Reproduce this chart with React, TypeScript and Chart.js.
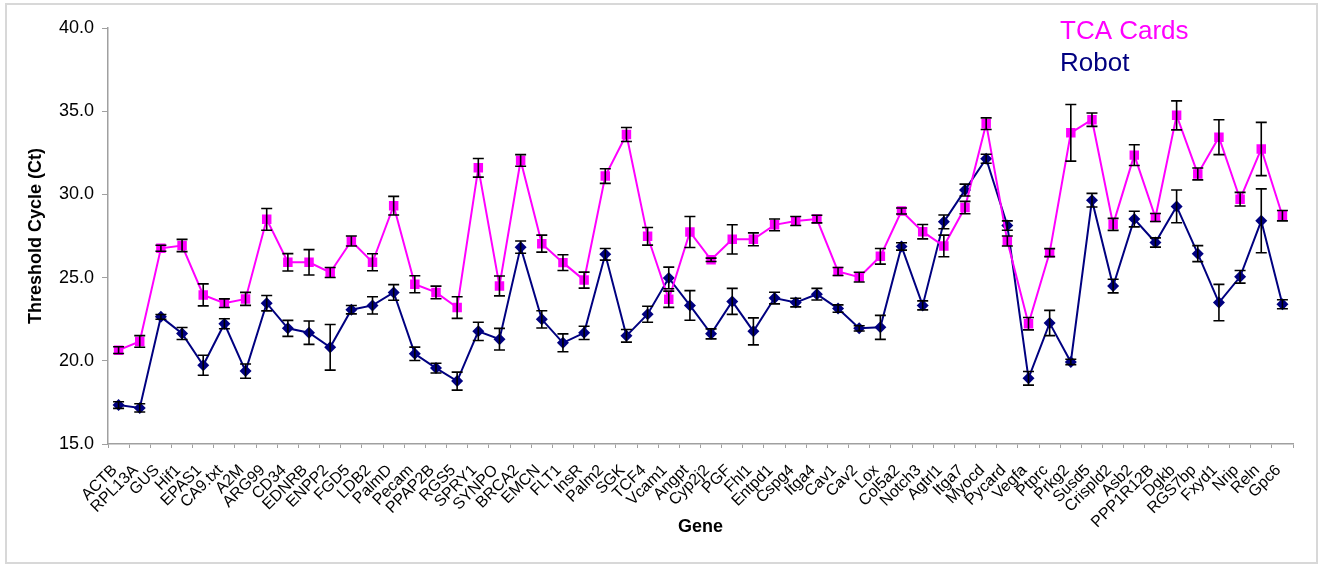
import React, { useEffect, useRef } from "react";
import { Chart, registerables } from "chart.js";

Chart.register(...registerables);

const genes = [
  "ACTB", "RPL13A", "GUS", "Hif1", "EPAS1", "CA9.txt", "A2M", "ARG99", "CD34", "EDNRB",
  "ENPP2", "FGD5", "LDB2", "PalmD", "Pecam", "PPAP2B", "RGS5", "SPRY1", "SYNPO", "BRCA2",
  "EMCN", "FLT1", "InsR", "Palm2", "SGK", "TCF4", "Vcam1", "Angpt", "Cyp2j2", "PGF",
  "Fhl1", "Entpd1", "Cspg4", "Itga4", "Cav1", "Cav2", "Lox", "Col5a2", "Notch3", "Agtrl1",
  "Itga7", "Myocd", "Pycard", "Vegfa", "Ptprc", "Prkg2", "Susd5", "Crispld2", "Asb2", "PPP1R12B",
  "Dgkb", "RGS7bp", "Fxyd1", "Nrip", "Reln", "Gpc6",
];

const tcaValues = [
  20.64, 21.16, 26.76, 26.93, 23.96, 23.46, 23.72, 28.5, 25.92, 25.92,
  25.31, 27.2, 25.92, 29.32, 24.6, 24.11, 23.2, 31.6, 24.5, 32.04,
  27.04, 25.9, 24.85, 31.1, 33.6, 27.48, 23.7, 27.74, 26.07, 27.3,
  27.3, 28.17, 28.4, 28.52, 25.37, 25.03, 26.28, 29.0, 27.76, 26.9,
  29.21, 34.25, 27.2, 22.23, 26.5, 33.7, 34.49, 28.2, 32.36, 28.61,
  34.75, 31.23, 33.44, 29.71, 32.73, 28.72,
];

const tcaErrors = [
  0.2, 0.35, 0.18, 0.37, 0.66, 0.26, 0.39, 0.65, 0.52, 0.76,
  0.3, 0.3, 0.51, 0.56, 0.51, 0.38, 0.65, 0.56, 0.6, 0.35,
  0.51, 0.47, 0.48, 0.44, 0.42, 0.53, 0.49, 0.93, 0.1, 0.88,
  0.39, 0.35, 0.27, 0.23, 0.24, 0.29, 0.47, 0.18, 0.43, 0.65,
  0.37, 0.35, 0.3, 0.37, 0.24, 1.7, 0.4, 0.36, 0.62, 0.24,
  0.87, 0.36, 1.05, 0.41, 1.6, 0.31,
];

const robotValues = [
  17.34, 17.17, 22.64, 21.64, 19.73, 22.23, 19.38, 23.46, 21.95, 21.69,
  20.81, 23.07, 23.33, 24.11, 20.42, 19.56, 18.78, 21.77, 21.3, 26.83,
  22.49, 21.08, 21.68, 26.4, 21.5, 22.8, 24.98, 23.33, 21.62, 23.57,
  21.77, 23.77, 23.5, 24.0, 23.14, 21.95, 22.01, 26.87, 23.33, 28.35,
  30.26, 32.14, 28.13, 18.95, 22.27, 19.93, 29.65, 24.49, 28.52, 27.11,
  29.28, 26.44, 23.5, 25.05, 28.41, 23.4,
];

const robotErrors = [
  0.2, 0.25, 0.14, 0.36, 0.6, 0.3, 0.43, 0.46, 0.48, 0.7,
  1.37, 0.25, 0.52, 0.47, 0.4, 0.29, 0.54, 0.55, 0.65, 0.37,
  0.52, 0.54, 0.4, 0.35, 0.38, 0.48, 0.65, 0.89, 0.3, 0.78,
  0.81, 0.35, 0.26, 0.35, 0.22, 0.16, 0.72, 0.22, 0.27, 0.41,
  0.36, 0.27, 0.28, 0.41, 0.76, 0.16, 0.41, 0.41, 0.47, 0.28,
  0.98, 0.48, 1.09, 0.38, 1.92, 0.27,
];

const seriesNames = ["TCA Cards", "Robot"];
const MAGENTA = "#FF00FF";
const NAVY = "#000080";
const FONT = "'Liberation Sans', Arial, sans-serif";

const errorBarPlugin = {
  id: "errorBars",
  afterDatasetsDraw(chart: any) {
    const ctx = chart.ctx;
    const yScale = chart.scales.y;
    ctx.save();
    ctx.strokeStyle = "#000000";
    ctx.lineWidth = 1.6;
    chart.data.datasets.forEach((ds: any, di: number) => {
      const meta = chart.getDatasetMeta(di);
      ds.data.forEach((v: number, i: number) => {
        const err = ds.errors[i];
        const px = meta.data[i].x;
        const top = yScale.getPixelForValue(v + err);
        const bot = yScale.getPixelForValue(v - err);
        const cap = 5.5;
        ctx.beginPath();
        ctx.moveTo(px, top);
        ctx.lineTo(px, bot);
        ctx.moveTo(px - cap, top);
        ctx.lineTo(px + cap, top);
        ctx.moveTo(px - cap, bot);
        ctx.lineTo(px + cap, bot);
        ctx.stroke();
      });
    });
    ctx.restore();
  },
};

const legendTextPlugin = {
  id: "legendText",
  afterDraw(chart: any) {
    const ctx = chart.ctx;
    ctx.save();
    ctx.font = `26px ${FONT}`;
    ctx.textBaseline = "middle";
    ctx.textAlign = "left";
    ctx.fillStyle = MAGENTA;
    ctx.fillText(seriesNames[0], 1060, 32);
    ctx.fillStyle = NAVY;
    ctx.fillText(seriesNames[1], 1060, 64);
    ctx.restore();
  },
};

export default function App() {
  const canvasRef = useRef<HTMLCanvasElement | null>(null);

  useEffect(() => {
    if (!canvasRef.current) return;
    const chart = new Chart(canvasRef.current, {
      type: "line",
      data: {
        labels: genes,
        datasets: [
          {
            label: seriesNames[1],
            data: robotValues,
            errors: robotErrors,
            borderColor: NAVY,
            backgroundColor: NAVY,
            borderWidth: 2,
            pointStyle: "rectRot",
            pointRadius: 6,
            pointBorderWidth: 0,
            pointBackgroundColor: NAVY,
            tension: 0,
            order: 2,
          } as any,
          {
            label: seriesNames[0],
            data: tcaValues,
            errors: tcaErrors,
            borderColor: MAGENTA,
            backgroundColor: MAGENTA,
            borderWidth: 2,
            pointStyle: "rect",
            pointRadius: 6.7,
            pointBorderWidth: 0,
            pointBackgroundColor: MAGENTA,
            tension: 0,
            order: 1,
          } as any,
        ],
      },
      options: {
        animation: false,
        responsive: false,
        devicePixelRatio: 1,
        layout: { padding: { top: 28, right: 29, bottom: 0, left: 0 } },
        plugins: {
          legend: { display: false },
          tooltip: { enabled: false },
        },
        scales: {
          x: {
            type: "category",
            offset: true,
            grid: {
              display: true,
              offset: true,
              drawOnChartArea: false,
              drawTicks: true,
              tickLength: 4,
              color: "#A0A0A0",
              lineWidth: 1,
            },
            border: { display: true, color: "#A0A0A0", width: 1.5 },
            ticks: {
              autoSkip: false,
              minRotation: 45,
              maxRotation: 45,
              padding: 13,
              labelOffset: -4,
              color: "#000000",
              font: { family: FONT, size: 16 },
            },
            title: {
              display: true,
              text: "Gene",
              color: "#000000",
              font: { family: FONT, size: 18, weight: "bold" },
              padding: { top: 4, bottom: 28 },
            },
            afterFit: (s: any) => {
              s.height = 122;
            },
          },
          y: {
            min: 15,
            max: 40,
            grid: {
              display: true,
              drawOnChartArea: false,
              drawTicks: true,
              tickLength: 6,
              color: "#A0A0A0",
            },
            border: { display: true, color: "#A0A0A0", width: 1.5 },
            ticks: {
              stepSize: 5,
              padding: 8,
              color: "#000000",
              font: { family: FONT, size: 18 },
              callback: (v: any) => Number(v).toFixed(1),
            },
            title: {
              display: true,
              text: "Threshold Cycle (Ct)",
              color: "#000000",
              font: { family: FONT, size: 18, weight: "bold" },
              padding: { top: 25, bottom: 0 },
            },
            afterFit: (s: any) => {
              s.width = 108;
            },
          },
        },
      } as any,
      plugins: [errorBarPlugin, legendTextPlugin],
    });
    return () => chart.destroy();
  }, []);

  return (
    <div
      style={{
        position: "fixed",
        left: 0,
        top: 0,
        width: 1322,
        height: 566,
        background: "#FFFFFF",
      }}
    >
      <div
        style={{
          position: "absolute",
          left: 5,
          top: 3,
          width: 1309,
          height: 557,
          border: "2px solid #D8D8D8",
        }}
      />
      <canvas
        ref={canvasRef}
        width={1322}
        height={566}
        style={{ position: "absolute", left: 0, top: 0 }}
      />
    </div>
  );
}
